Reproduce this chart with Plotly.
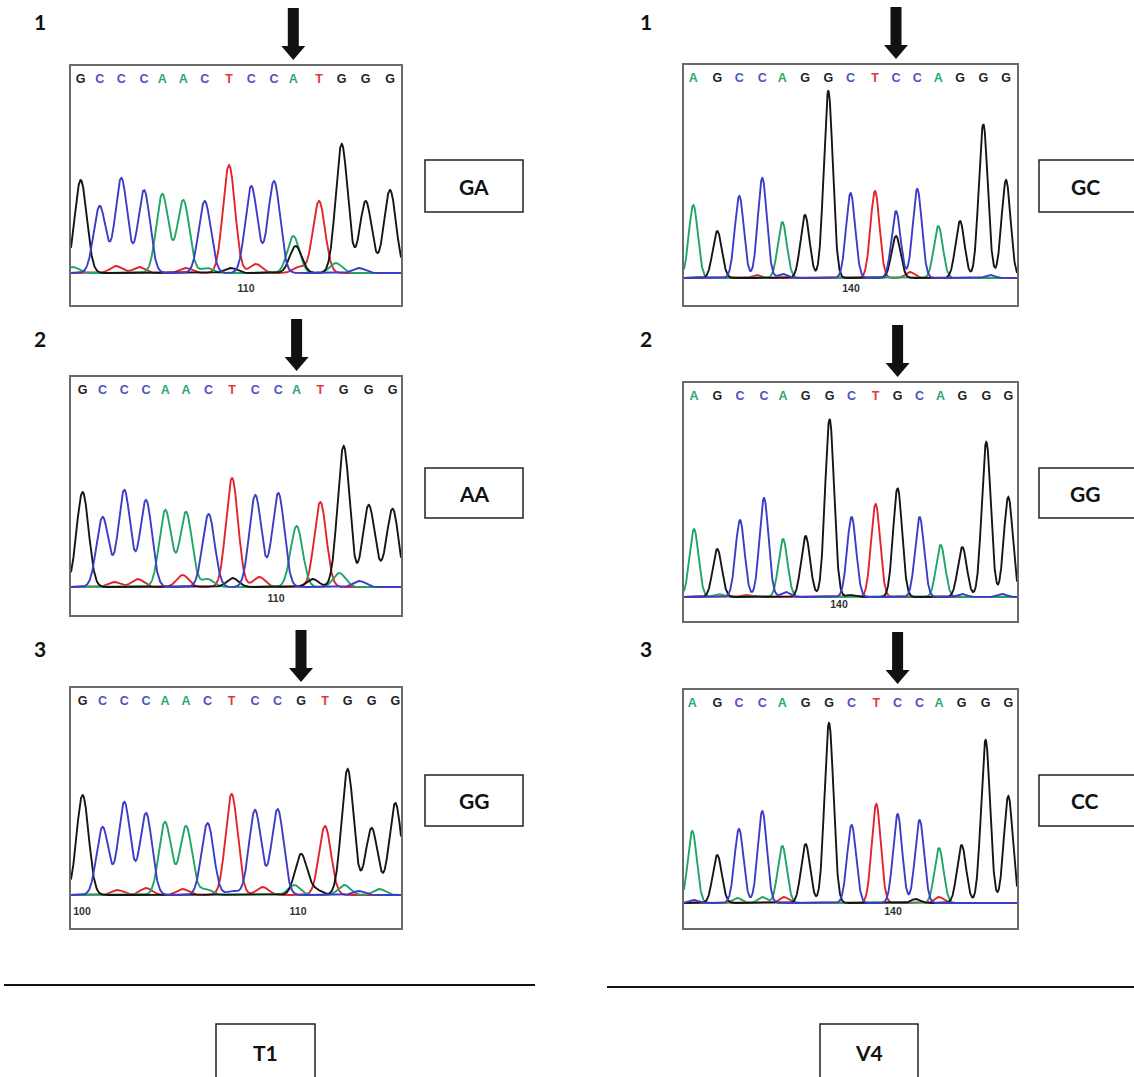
import numpy as np
import plotly.graph_objects as go

# ---------------- DATA ----------------
# base calls (letters over each chromatogram)
letters_L1 = list("GCCCAACTCCATGGG")
letters_L2 = list("GCCCAACTCCATGGG")
letters_L3 = list("GCCCAACTCCGTGGG")
letters_R1 = list("AGCCAGGCTCCAGGG")
letters_R2 = list("AGCCAGGCTGCAGGG")
letters_R3 = list("AGCCAGGCTCCAGGG")

# main peak positions (scan units) and heights (signal units)
pos_L1 = [9.7, 28.7, 50.3, 73, 91.3, 112.3, 133.7, 158, 180.3, 203, 222.3, 248, 270.7, 294.7, 319]
hgt_L1 = [93, 67, 95, 83, 79, 73, 72, 108, 87, 92, 37, 72, 129, 72, 83]
pos_L2 = [11.6, 31.6, 53.3, 75, 94.3, 115, 137.6, 161, 184.3, 207.3, 225.6, 249.3, 272.6, 297.6, 321.6]
hgt_L2 = [95, 70, 97, 87, 77, 75, 73, 109, 92, 94, 61, 85, 141, 81, 78]
pos_L3 = [11.6, 31.6, 53.3, 75, 94, 115, 136.6, 160.6, 184, 206.6, 230, 254, 276.6, 300.6, 324.3]
hgt_L3 = [100, 68, 93, 82, 73, 69, 72, 101, 85, 86, 41, 69, 126, 67, 92]
pos_R1 = [9.3, 33.3, 55.3, 78.3, 98.3, 121, 144.3, 166.6, 191, 212, 233.3, 254.3, 276, 299.3, 322]
hgt_R1 = [73, 47, 82, 100, 56, 63, 187, 85, 87, 67, 89, 52, 57, 154, 98]
pos_R2 = [10, 33.3, 56, 80, 99, 121.6, 145.6, 167.6, 191.6, 213.6, 235.6, 256.6, 278.3, 302.3, 324.3]
hgt_R2 = [68, 48, 77, 99, 58, 61, 178, 80, 93, 109, 80, 52, 50, 155, 100]
pos_R3 = [8.3, 33.3, 55, 78.3, 98.3, 121.6, 145, 167.6, 192.3, 213.6, 235.6, 255, 277.6, 301.6, 324.3]
hgt_R3 = [72, 48, 74, 92, 57, 59, 180, 78, 96, 89, 83, 55, 58, 163, 107]

# secondary / background peaks: channel, position, height
minor_ch_L1 = ["G", "T", "T", "T", "T", "A", "G", "A", "T", "C", "A"]
minor_pos_L1 = [224.7, 45, 68, 115, 185, 136, 160, 265, 228, 288, 2]
minor_h_L1 = [27, 7, 6, 5, 9, 5, 5, 10, 6, 5, 6]
minor_ch_L2 = ["T", "T", "T", "A", "G", "T", "G", "A", "C", "G"]
minor_pos_L2 = [43.3, 66.6, 111.7, 136.6, 161.6, 188.3, 241.6, 268.3, 288.3, 308]
minor_h_L2 = [5, 8, 12, 8, 9, 10, 8, 14, 6, 5]
minor_ch_L3 = ["T", "T", "T", "A", "C", "T", "A", "G", "A", "A", "C"]
minor_pos_L3 = [46.6, 75, 111.6, 135, 161.6, 191.6, 223.3, 245, 273.3, 308.3, 288]
minor_h_L3 = [5, 7, 6, 6, 4, 8, 10, 5, 10, 6, 4]
minor_ch_R1 = ["G", "T", "C", "T", "C"]
minor_pos_R1 = [212, 226, 99, 72.7, 306]
minor_h_R1 = [42, 6, 4, 3, 3]
minor_ch_R2 = ["C", "A", "T", "G", "C", "C"]
minor_pos_R2 = [101.7, 34, 61.7, 166.7, 278, 318]
minor_h_R2 = [5, 3, 2, 2, 3, 3]
minor_ch_R3 = ["A", "A", "T", "G", "T", "C", "T"]
minor_pos_R3 = [53.3, 78.3, 100, 231.7, 255, 10, 192]
minor_h_R3 = [5, 6, 6, 4, 6, 3, 3]

# axis tick labels (base numbering)
tickpos_L1, ticktext_L1 = [175], ["110"]
tickpos_L2, ticktext_L2 = [205], ["110"]
tickpos_L3, ticktext_L3 = [11, 227], ["100", "110"]
tickpos_R1, ticktext_R1 = [167], ["140"]
tickpos_R2, ticktext_R2 = [155], ["140"]
tickpos_R3, ticktext_R3 = [209], ["140"]

# marked (arrowed) base index in each panel
arrow_idx_L = 10
arrow_idx_R = 9

panel_numbers = ["1", "2", "3"]
genotypes_L = ["GA", "AA", "GG"]
genotypes_R = ["GC", "GG", "CC"]
group_labels = ["T1", "V4"]

# ---------------- STYLE / LAYOUT ----------------
FW, FH = 1134, 1077
BASE_COL = {"G": "#151515", "C": "#3c3cc8", "A": "#1fa566", "T": "#e4232c"}
LETTER_COL = {"G": "#222222", "C": "#5050c8", "A": "#2aa870", "T": "#e03a3a"}
TRACE_ORDER = ["T", "A", "G", "C"]
LABEL_FONT = dict(size=21, family="Lato", color="#111", weight="bold")


def fx(px):
    return px / FW


def fy(py):
    return 1 - py / FH


# panel geometry in pixels: left, right, top, baseline, bottom, sigma
panels = [
    dict(L=71, R=401, T=66, B=273, BOT=305, s=6.0, letters=letters_L1, pos=pos_L1, h=hgt_L1,
         mch=minor_ch_L1, mpos=minor_pos_L1, mh=minor_h_L1, tp=tickpos_L1, tt=ticktext_L1, arrow=arrow_idx_L),
    dict(L=71, R=401, T=377, B=587, BOT=615, s=6.0, letters=letters_L2, pos=pos_L2, h=hgt_L2,
         mch=minor_ch_L2, mpos=minor_pos_L2, mh=minor_h_L2, tp=tickpos_L2, tt=ticktext_L2, arrow=arrow_idx_L),
    dict(L=71, R=401, T=688, B=895, BOT=928, s=6.0, letters=letters_L3, pos=pos_L3, h=hgt_L3,
         mch=minor_ch_L3, mpos=minor_pos_L3, mh=minor_h_L3, tp=tickpos_L3, tt=ticktext_L3, arrow=arrow_idx_L),
    dict(L=684, R=1017, T=65, B=278, BOT=305, s=4.5, letters=letters_R1, pos=pos_R1, h=hgt_R1,
         mch=minor_ch_R1, mpos=minor_pos_R1, mh=minor_h_R1, tp=tickpos_R1, tt=ticktext_R1, arrow=arrow_idx_R),
    dict(L=684, R=1017, T=383, B=597, BOT=621, s=4.5, letters=letters_R2, pos=pos_R2, h=hgt_R2,
         mch=minor_ch_R2, mpos=minor_pos_R2, mh=minor_h_R2, tp=tickpos_R2, tt=ticktext_R2, arrow=arrow_idx_R),
    dict(L=684, R=1017, T=690, B=903, BOT=928, s=4.5, letters=letters_R3, pos=pos_R3, h=hgt_R3,
         mch=minor_ch_R3, mpos=minor_pos_R3, mh=minor_h_R3, tp=tickpos_R3, tt=ticktext_R3, arrow=arrow_idx_R),
]

fig = go.Figure()
layout = dict(width=FW, height=FH, margin=dict(l=0, r=0, t=0, b=0),
              paper_bgcolor="white", plot_bgcolor="white", showlegend=False)
shapes = []
annotations = []

for i, p in enumerate(panels, start=1):
    xa = "x" if i == 1 else f"x{i}"
    ya = "y" if i == 1 else f"y{i}"
    W = p["R"] - p["L"]
    xs = np.linspace(0, W, 1400)
    s = p["s"]
    for ch in TRACE_ORDER:
        y = np.zeros_like(xs)
        for b, x0, h in zip(p["letters"], p["pos"], p["h"]):
            if b == ch:
                y += h * np.exp(-(xs - x0) ** 2 / (2 * s * s))
        for b, x0, h in zip(p["mch"], p["mpos"], p["mh"]):
            if b == ch:
                y += h * np.exp(-(xs - x0) ** 2 / (2 * s * s))
        fig.add_trace(go.Scatter(x=xs, y=y, mode="lines", xaxis=xa, yaxis=ya,
                                 line=dict(color=BASE_COL[ch], width=1.9), hoverinfo="skip"))
    # base call letters
    letter_y = p["B"] - (p["T"] + 14)
    fig.add_trace(go.Scatter(x=p["pos"], y=[letter_y] * len(p["pos"]), mode="text",
                             text=p["letters"], xaxis=xa, yaxis=ya, hoverinfo="skip",
                             textfont=dict(color=[LETTER_COL[b] for b in p["letters"]], size=12.5,
                                           family="Liberation Sans", weight="bold")))
    axkey_x = "xaxis" if i == 1 else f"xaxis{i}"
    axkey_y = "yaxis" if i == 1 else f"yaxis{i}"
    layout[axkey_x] = dict(domain=[fx(p["L"]), fx(p["R"])], range=[0, W], anchor=ya,
                           showline=True, mirror=True, linecolor="#6a6a6a", linewidth=2,
                           showgrid=False, zeroline=False, ticks="",
                           tickvals=p["tp"], ticktext=p["tt"], ticklabelposition="inside",
                           ticklabelstandoff=10,
                           tickfont=dict(size=10.5, color="#333", family="Liberation Sans", weight="bold"),
                           fixedrange=True)
    layout[axkey_y] = dict(domain=[fy(p["BOT"]), fy(p["T"])], range=[-(p["BOT"] - p["B"]), p["B"] - p["T"]],
                           anchor=xa, showline=True, mirror=True, linecolor="#6a6a6a", linewidth=2,
                           showgrid=False, zeroline=False, showticklabels=False, ticks="",
                           fixedrange=True)
    # arrow pointing to the marked base
    cx = p["pos"][p["arrow"]]
    y_top = fy(p["T"] - 58)
    y_head = fy(p["T"] - 20)
    y_tip = fy(p["T"] - 6)
    path = (f"M {cx-5.5},{y_top} L {cx+5.5},{y_top} L {cx+5.5},{y_head} L {cx+12},{y_head} "
            f"L {cx},{y_tip} L {cx-12},{y_head} L {cx-5.5},{y_head} Z")
    shapes.append(dict(type="path", path=path, xref=xa, yref="paper",
                       fillcolor="#111111", line=dict(width=0)))

# panel numbers
num_y = [22, 338, 648]
for n, yy in zip(panel_numbers, num_y):
    for xx in (40, 646):
        annotations.append(dict(x=fx(xx), y=fy(yy), xref="paper", yref="paper", text=n,
                                xanchor="center", yanchor="middle", showarrow=False, font=LABEL_FONT))

# genotype boxes
box_y = [(160, 212), (468, 518), (775, 826)]
for g, (y0, y1) in zip(genotypes_L, box_y):
    shapes.append(dict(type="rect", xref="paper", yref="paper", x0=fx(425), x1=fx(523),
                       y0=fy(y1), y1=fy(y0), line=dict(color="#222", width=1.5)))
    annotations.append(dict(x=fx(474), y=fy((y0 + y1) / 2), xref="paper", yref="paper", text=g,
                            xanchor="center", yanchor="middle", showarrow=False, font=LABEL_FONT))
for g, (y0, y1) in zip(genotypes_R, box_y):
    shapes.append(dict(type="rect", xref="paper", yref="paper", x0=fx(1039), x1=fx(1140),
                       y0=fy(y1), y1=fy(y0), line=dict(color="#222", width=1.5)))
    annotations.append(dict(x=fx(1085), y=fy((y0 + y1) / 2), xref="paper", yref="paper", text=g,
                            xanchor="center", yanchor="middle", showarrow=False, font=LABEL_FONT))

# separator lines
shapes.append(dict(type="line", xref="paper", yref="paper", x0=fx(4), x1=fx(535), y0=fy(985), y1=fy(985),
                   line=dict(color="#111", width=2)))
shapes.append(dict(type="line", xref="paper", yref="paper", x0=fx(607), x1=fx(1134), y0=fy(987), y1=fy(987),
                   line=dict(color="#111", width=2)))

# group label boxes
for lab, (x0, x1) in zip(group_labels, [(216, 315), (820, 918)]):
    shapes.append(dict(type="rect", xref="paper", yref="paper", x0=fx(x0), x1=fx(x1),
                       y0=fy(1095), y1=fy(1024), line=dict(color="#222", width=1.5)))
    annotations.append(dict(x=fx((x0 + x1) / 2), y=fy(1052), xref="paper", yref="paper", text=lab,
                            xanchor="center", yanchor="middle", showarrow=False, font=LABEL_FONT))

layout["shapes"] = shapes
layout["annotations"] = annotations
fig.update_layout(**layout)
fig.write_html("out.html", config={"displayModeBar": False},
               post_script="document.body.style.margin='0';")
